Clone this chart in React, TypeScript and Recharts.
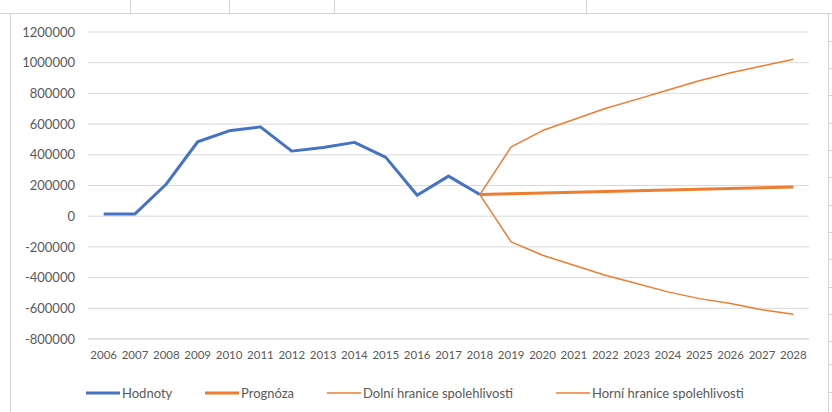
import React from 'react';
import { LineChart, Line, XAxis, YAxis, CartesianGrid, Legend } from 'recharts';

const years = ['2006','2007','2008','2009','2010','2011','2012','2013','2014','2015','2016','2017','2018','2019','2020','2021','2022','2023','2024','2025','2026','2027','2028'];
const hodnoty: (number | null)[] = [15000, 15000, 210000, 485000, 556000, 582000, 424000, 448000, 481000, 383000, 137000, 261000, 141000, null, null, null, null, null, null, null, null, null, null];
const prognoza: (number | null)[] = [null, null, null, null, null, null, null, null, null, null, null, null, 141000, 146000, 151000, 156000, 161000, 166000, 170000, 175000, 180000, 186000, 191000];
const dolni: (number | null)[] = [null, null, null, null, null, null, null, null, null, null, null, null, 141000, -167000, -254000, -320000, -385000, -439000, -493000, -537000, -569000, -609000, -639000];
const horni: (number | null)[] = [null, null, null, null, null, null, null, null, null, null, null, null, 141000, 452000, 558000, 630000, 702000, 761000, 822000, 883000, 935000, 978000, 1022000];
const yTicks = [-800000, -600000, -400000, -200000, 0, 200000, 400000, 600000, 800000, 1000000, 1200000];

const seriesNames = ['Hodnoty', 'Prognóza', 'Dolní hranice spolehlivosti', 'Horní hranice spolehlivosti'];

const data = years.map((y, i) => ({
  year: y,
  hodnoty: hodnoty[i],
  prognoza: prognoza[i],
  dolni: dolni[i],
  horni: horni[i],
}));

const BLUE = '#4472C4';
const ORANGE = '#ED7D31';
const FONT = 'Lato, "Open Sans", sans-serif';

const legendItems = [
  { name: seriesNames[0], color: BLUE, width: 3, itemWidth: 119 },
  { name: seriesNames[1], color: ORANGE, width: 3, itemWidth: 122 },
  { name: seriesNames[2], color: ORANGE, width: 1.5, itemWidth: 229 },
  { name: seriesNames[3], color: ORANGE, width: 1.5, itemWidth: 200 },
];

const CustomLegend = () => (
  <div style={{ height: 39, display: 'flex', alignItems: 'center', paddingLeft: 86, boxSizing: 'border-box', fontFamily: FONT, fontSize: 13, color: '#595959' }}>
    {legendItems.map((it) => (
      <div key={it.name} style={{ display: 'flex', alignItems: 'center', width: it.itemWidth, flex: 'none' }}>
        <svg width={36} height={10} style={{ flex: 'none' }}>
          <line x1={0} y1={5} x2={34} y2={5} stroke={it.color} strokeWidth={it.width} />
        </svg>
        <span style={{ whiteSpace: 'nowrap' }}>{it.name}</span>
      </div>
    ))}
  </div>
);

const rowLines = [13, 41, 68, 95, 123, 150, 177, 205, 232, 259, 287, 314, 341, 364, 392];
const colLines = [130, 229, 334, 586];

export default function App() {
  return (
    <div style={{ position: 'absolute', left: 0, top: 0, width: 832, height: 412, background: '#fff', overflow: 'hidden' }}>
      {colLines.map((x) => (
        <div key={x} style={{ position: 'absolute', left: x, top: 0, width: 1, height: 13, background: '#d4d4d4' }} />
      ))}
      {rowLines.map((y) => (
        <div key={y} style={{ position: 'absolute', left: y === 13 ? 0 : 828, top: y, width: y === 13 ? 832 : 4, height: 1, background: '#d4d4d4' }} />
      ))}
      <div style={{ position: 'absolute', left: 10, top: 13, width: 1, height: 399, background: '#d4d4d4' }} />
      <div style={{ position: 'absolute', left: 828, top: 13, width: 1, height: 399, background: '#d4d4d4' }} />
      <div style={{ position: 'absolute', left: 0, top: 0 }}>
        <LineChart width={832} height={412} data={data} margin={{ top: 32, right: 23, left: 0, bottom: 0 }}>
          <CartesianGrid vertical={false} stroke="#d9d9d9" strokeWidth={1} />
          <XAxis
            dataKey="year"
            scale="band"
            height={34}
            tickLine={false}
            axisLine={{ stroke: '#d9d9d9' }}
            tickMargin={6}
            interval={0}
            tick={{ fill: '#595959', fontSize: 11.5, fontFamily: FONT }}
          />
          <YAxis
            width={88}
            domain={[-800000, 1200000]}
            ticks={yTicks}
            interval={0}
            tickLine={false}
            axisLine={false}
            tickMargin={7}
            tick={{ fill: '#595959', fontSize: 13, fontFamily: FONT }}
          />
          <Legend verticalAlign="bottom" height={39} content={<CustomLegend />} />
          <Line type="linear" dataKey="hodnoty" name={seriesNames[0]} stroke={BLUE} strokeWidth={3} dot={false} isAnimationActive={false} connectNulls={false} strokeLinejoin="round" />
          <Line type="linear" dataKey="dolni" name={seriesNames[2]} stroke={ORANGE} strokeWidth={1.5} dot={false} isAnimationActive={false} strokeLinejoin="round" />
          <Line type="linear" dataKey="horni" name={seriesNames[3]} stroke={ORANGE} strokeWidth={1.5} dot={false} isAnimationActive={false} strokeLinejoin="round" />
          <Line type="linear" dataKey="prognoza" name={seriesNames[1]} stroke={ORANGE} strokeWidth={3} dot={false} isAnimationActive={false} strokeLinejoin="round" />
        </LineChart>
      </div>
    </div>
  );
}
